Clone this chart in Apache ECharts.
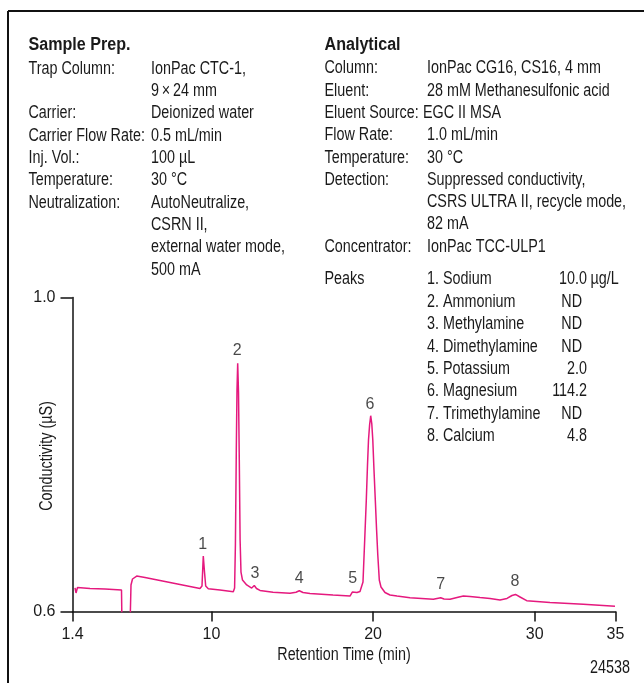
<!DOCTYPE html>
<html>
<head>
<meta charset="utf-8">
<script src="https://cdn.jsdelivr.net/npm/echarts@6/dist/echarts.min.js"></script>
<style>
html,body{margin:0;padding:0;background:#fff;}
#chart{width:644px;height:683px;}
</style>
</head>
<body>
<div id="chart"></div>
<script>
// ---- Data ----
var retentionTime = [1.555,1.617,1.709,2.483,3.411,4.432,4.463,4.958,5.020,5.113,5.373,5.886,6.815,8.052,9.289,9.413,9.493,9.568,9.642,9.803,10.527,11.350,11.430,11.480,11.536,11.579,11.622,11.672,11.721,11.771,11.826,11.919,12.179,12.488,12.649,12.785,13.002,13.806,14.858,15.229,15.434,15.663,16.096,17.519,18.571,18.714,18.818,19.004,19.190,19.295,19.375,19.481,19.580,19.654,19.716,19.784,19.852,19.920,19.982,20.056,20.137,20.217,20.291,20.384,20.489,20.737,21.046,21.479,22.284,23.726,23.955,24.184,24.388,24.760,25.193,25.583,25.996,26.615,27.234,27.853,28.286,28.595,28.812,29.092,29.506,30.947,33.007,34.969];
var conductivity = [0.630,0.6236,0.6306,0.6293,0.6287,0.6274,0.58,0.58,0.6338,0.6414,0.6452,0.6433,0.6395,0.6344,0.6293,0.6325,0.6707,0.6503,0.6325,0.6290,0.6274,0.6252,0.6299,0.6847,0.8057,0.8822,0.9162,0.8796,0.7930,0.6911,0.6503,0.6401,0.6338,0.6299,0.6331,0.6293,0.6268,0.6245,0.6232,0.6246,0.6264,0.6242,0.6229,0.6210,0.6197,0.6248,0.6257,0.6242,0.6255,0.6280,0.6376,0.6911,0.7420,0.7866,0.8185,0.8376,0.8494,0.8389,0.8185,0.7803,0.7420,0.7038,0.6720,0.6401,0.6312,0.6242,0.6210,0.6197,0.6176,0.6155,0.6166,0.6175,0.6159,0.6155,0.6178,0.6197,0.6191,0.6178,0.6166,0.6146,0.6166,0.6204,0.6217,0.6185,0.6138,0.6115,0.6092,0.6066];

var peakNumbers = ['1','2','3','4','5','6','7','8'];
var peakLabelTime = [9.456,11.597,12.693,15.434,18.738,19.809,24.184,28.781];
var peakLabelValue = [0.6847,0.9322,0.6487,0.6423,0.6423,0.8631,0.6338,0.6380];

var xTicks = [1.4,10,20,30,35];
var yTicks = [0.6,1.0];

var leftTitle = 'Sample Prep.';
var leftLabels = ['Trap Column:','','Carrier:','Carrier Flow Rate:','Inj. Vol.:','Temperature:','Neutralization:','','',''];
var leftValues = ['IonPac CTC-1,','9\u2009\u00d7\u200924 mm','Deionized water','0.5 mL/min','100 \u00b5L','30 \u00b0C','AutoNeutralize,','CSRN II,','external water mode,','500 mA'];

var rightTitle = 'Analytical';
var rightLabels = ['Column:','Eluent:','Eluent Source:','Flow Rate:','Temperature:','Detection:','','','Concentrator:'];
var rightValues = ['IonPac CG16, CS16, 4 mm','28 mM Methanesulfonic acid','EGC II MSA','1.0 mL/min','30 \u00b0C','Suppressed conductivity,','CSRS ULTRA II, recycle mode,','82 mA','IonPac TCC-ULP1'];

var peaksHeading = 'Peaks';
var peakNames = ['1. Sodium','2. Ammonium','3. Methylamine','4. Dimethylamine','5. Potassium','6. Magnesium','7. Trimethylamine','8. Calcium'];
var peakAmounts = ['10.0','ND','ND','ND','2.0','114.2','ND','4.8'];
var amountUnit = '\u00b5g/L';

var xTitle = 'Retention Time (min)';
var yTitle = 'Conductivity (\u00b5S)';
var figureNumber = '24538';

// ---- Chart ----
var FONT = '"Liberation Sans",Arial,Helvetica,sans-serif';
var FS = 17.5;
var SX = 0.82;
var TRACE = '#E5197E';
var INK = '#1a1a1a';

var lineData = retentionTime.map(function(t,i){return [t, conductivity[i]];});
var labelData = peakNumbers.map(function(n,i){return {value:[peakLabelTime[i], peakLabelValue[i]], name:n};});

var graphics = [];
function txt(x,y,s,opt){
  opt = opt||{};
  graphics.push({type:'text', x:x, y:y, silent:true,
    scaleX: opt.sx || SX, rotation: opt.rot || 0,
    style:{
      text:s, fill:INK, font:(opt.bold?'bold ':'')+(opt.fs||FS)+'px '+FONT,
      textAlign:opt.align||'left', textVerticalAlign:'middle'}});
}
// frame
graphics.push({type:'line', shape:{x1:8,y1:11,x2:644,y2:11}, style:{stroke:'#111',lineWidth:2}, silent:true});
graphics.push({type:'line', shape:{x1:8,y1:11,x2:8,y2:683}, style:{stroke:'#111',lineWidth:2}, silent:true});

var rowH = 22.3;
txt(28.5, 45, leftTitle, {bold:true, sx:0.92});
leftLabels.forEach(function(l,i){ if(l) txt(28.5, 69 + rowH*i, l); });
leftValues.forEach(function(v,i){ txt(151, 69 + rowH*i, v); });
txt(324.5, 45, rightTitle, {bold:true, sx:0.92});
rightLabels.forEach(function(l,i){ if(l) txt(324.5, 68.5 + rowH*i, l); });
rightValues.forEach(function(v,i){ txt(i===2?423:427, 68.5 + rowH*i, v); });
txt(324.5, 279.5, peaksHeading);
peakNames.forEach(function(n,i){ txt(427, 279.5 + 22.4*i, n); });
peakAmounts.forEach(function(a,i){
  var y = 279.5 + 22.4*i;
  txt(a==='ND' ? 582 : 587, y, a, {align:'right'});
});
txt(590.5, 279.5, amountUnit);
txt(630, 668, figureNumber, {align:'right'});
// axis titles
txt(344, 655, xTitle, {align:'center'});
txt(47, 456, yTitle, {align:'center', rot:Math.PI/2});

var chart = echarts.init(document.getElementById('chart'), null, {renderer:'canvas'});
chart.setOption({
  animation:false,
  backgroundColor:'#fff',
  grid:{left:72.5, right:28.5, top:297.5, bottom:71.5, containLabel:false},
  xAxis:{
    type:'value', min:1.4, max:35,
    axisLine:{onZero:false, lineStyle:{color:'#111', width:1.5}},
    axisTick:{show:true, length:10, lineStyle:{color:'#111', width:1.5}, customValues:xTicks},
    axisLabel:{customValues:xTicks, margin:15, fontFamily:FONT, fontSize:16, color:INK,
      formatter:function(v){return String(v);}},
    splitLine:{show:false}
  },
  yAxis:{
    type:'value', min:0.6, max:1.0,
    axisLine:{show:true, onZero:false, lineStyle:{color:'#111', width:1.5}},
    axisTick:{show:true, length:12, lineStyle:{color:'#111', width:1.5}, customValues:yTicks},
    axisLabel:{customValues:yTicks, margin:17, fontFamily:FONT, fontSize:16, color:INK,
      formatter:function(v){return v.toFixed(1);}},
    splitLine:{show:false}
  },
  series:[
    {type:'line', data:lineData, showSymbol:false, symbol:'none', clip:true,
     lineStyle:{color:TRACE, width:1.5}, z:3},
    {type:'scatter', data:labelData, symbolSize:0, silent:true,
     label:{show:true, position:'inside', formatter:'{b}', fontFamily:FONT, fontSize:16, color:INK}, z:4}
  ],
  graphic:graphics
});
</script>
</body>
</html>
